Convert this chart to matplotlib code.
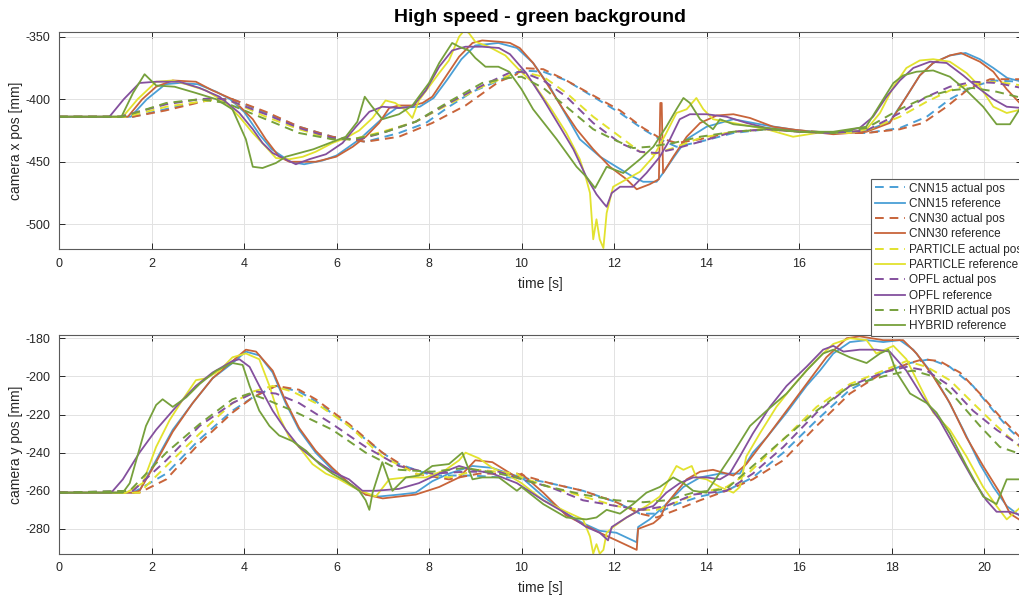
import matplotlib
matplotlib.use("Agg")
import matplotlib.pyplot as plt

plt.rcParams['font.family'] = ['Liberation Sans', 'DejaVu Sans']
plt.rcParams['axes.unicode_minus'] = False

T_MAX = 20.82

# colours of the five methods
C_CNN15 = '#4a9fd6'
C_CNN30 = '#c8643a'
C_PARTICLE = '#e2e22e'
C_OPFL = '#84509e'
C_HYBRID = '#76a03c'

# ---- camera x position (time [s], mm) ----
x_cnn15_act = [(0, -414), (1.6, -414), (2.3, -408), (3.3, -400), (3.75, -400), (4.47, -411), (5.19, -422), (5.91, -430),
               (6.27, -432), (6.63, -434), (7.35, -427), (7.93, -419), (8.43, -406), (8.94, -394), (9.51, -385), (10.0, -377),
               (10.47, -378), (10.97, -385), (11.55, -398), (12.13, -411), (12.63, -424), (12.99, -432), (13.35, -438),
               (13.86, -434), (14.58, -427), (15.3, -424), (16.02, -426), (16.74, -427), (17.46, -427), (18.18, -423),
               (18.76, -414), (19.26, -400), (19.76, -390), (20.2, -385), (20.82, -386)]
x_cnn15_ref = [(0, -414), (1.55, -414), (1.9, -400), (2.3, -388), (2.6, -387), (3.0, -388), (3.4, -394), (3.7, -400),
               (4.0, -410), (4.33, -428), (4.6, -440), (5.0, -450), (5.3, -452), (5.7, -449), (6.0, -445), (6.5, -432),
               (7.0, -415), (7.3, -407), (7.8, -406), (8.1, -399), (8.4, -384), (8.7, -368), (9.0, -357), (9.5, -355),
               (9.9, -359), (10.25, -371), (10.61, -390), (11.0, -415), (11.26, -432), (11.7, -446), (12.05, -454),
               (12.41, -462), (12.63, -466), (12.92, -466), (13.06, -459), (13.3, -446), (13.57, -432), (14.0, -422),
               (14.58, -416), (15.3, -421), (16.0, -425), (16.74, -427), (17.46, -425), (17.96, -418), (18.32, -398),
               (18.61, -381), (18.9, -371), (19.26, -365), (19.6, -363), (19.91, -368), (20.2, -375), (20.5, -383),
               (20.82, -386)]
x_cnn30_act = [(0, -414), (1.6, -414), (2.3, -409), (3.32, -400), (3.75, -400), (4.47, -410), (5.19, -422), (5.91, -430),
               (6.63, -434), (7.35, -430), (8.07, -419), (8.79, -405), (9.51, -386), (9.9, -380), (10.0, -375), (10.47, -376),
               (10.97, -385), (11.55, -397), (12.13, -409), (12.63, -423), (12.99, -431), (13.35, -435), (13.86, -432),
               (14.58, -426), (15.3, -424), (16.02, -425), (16.74, -427), (17.46, -427), (18.18, -424), (18.68, -419),
               (19.19, -406), (19.69, -391), (20.13, -384), (20.82, -384)]
x_cnn30_ref = [(0, -414), (1.49, -414), (1.8, -400), (2.1, -390), (2.46, -385), (2.96, -386), (3.32, -393), (3.75, -400),
               (4.19, -416), (4.47, -432), (4.76, -446), (4.98, -450), (5.55, -450), (5.99, -446), (6.35, -438), (6.63, -430),
               (6.92, -419), (7.14, -407), (7.35, -405), (7.64, -405), (7.86, -403), (8.07, -398), (8.36, -382), (8.65, -366),
               (8.94, -355), (9.15, -353), (9.51, -354), (9.75, -355), (9.96, -359), (10.25, -371), (10.54, -387),
               (10.9, -408), (11.19, -424), (11.55, -440), (11.91, -454), (12.27, -464), (12.49, -472), (12.77, -468),
               (12.97, -464), (13.0, -403), (13.03, -403), (13.06, -459), (13.28, -446), (13.57, -430), (13.86, -419),
               (14.22, -413), (14.58, -412), (14.94, -415), (15.44, -422), (16.02, -425), (16.74, -428), (17.46, -426),
               (17.96, -419), (18.32, -398), (18.61, -381), (18.9, -371), (19.26, -365), (19.5, -363), (19.91, -370),
               (20.2, -378), (20.49, -392), (20.82, -405)]
x_particle_act = [(0, -414), (1.45, -414), (2.32, -406), (3.04, -402), (3.47, -400), (3.75, -402), (4.47, -414), (5.19, -424),
                  (5.91, -432), (6.35, -432), (6.99, -426), (7.71, -418), (8.43, -404), (9.15, -390), (9.73, -381),
                  (10.0, -378), (10.47, -382), (10.97, -395), (11.55, -414), (12.13, -430), (12.56, -442), (12.85, -444),
                  (13.28, -439), (13.86, -431), (14.58, -426), (15.3, -424), (16.02, -426), (16.74, -427), (17.46, -425),
                  (18.18, -414), (18.76, -402), (19.26, -393), (19.76, -387), (20.27, -386), (20.82, -389)]
x_particle_ref = [(0, -414), (1.38, -414), (1.7, -400), (2.1, -386), (2.46, -385), (2.75, -388), (3.18, -393), (3.61, -403),
                  (3.9, -414), (4.19, -427), (4.47, -438), (4.69, -447), (4.98, -448), (5.27, -446), (5.55, -442),
                  (5.91, -435), (6.2, -431), (6.49, -425), (6.78, -415), (7.06, -401), (7.27, -403), (7.5, -409),
                  (7.64, -415), (7.78, -401), (8.0, -390), (8.22, -379), (8.43, -369), (8.65, -350), (8.76, -345),
                  (8.86, -347), (9.0, -354), (9.29, -358), (9.65, -365), (9.96, -377), (10.25, -387), (10.61, -406),
                  (10.97, -427), (11.26, -448), (11.4, -464), (11.48, -475), (11.55, -512), (11.62, -496), (11.69, -512),
                  (11.77, -519), (11.84, -491), (11.98, -470), (12.27, -464), (12.56, -458), (12.85, -446), (13.13, -427),
                  (13.35, -411), (13.57, -408), (13.78, -399), (13.93, -408), (14.14, -416), (14.58, -419), (15.3, -424),
                  (15.87, -430), (16.38, -427), (17.1, -427), (17.46, -424), (17.75, -411), (18.04, -390), (18.32, -375),
                  (18.61, -369), (18.9, -368), (19.26, -370), (19.62, -379), (19.91, -390), (20.2, -406), (20.49, -411),
                  (20.82, -408)]
x_opfl_act = [(0, -414), (1.31, -414), (2.32, -404), (3.04, -400), (3.4, -399), (3.75, -402), (4.47, -412), (5.19, -423),
              (5.91, -431), (6.49, -432), (6.99, -427), (7.71, -418), (8.43, -403), (9.15, -389), (9.73, -379), (10.0, -378),
              (10.47, -385), (10.97, -398), (11.55, -419), (12.13, -435), (12.56, -442), (12.92, -443), (13.28, -440),
              (13.86, -434), (14.58, -426), (15.3, -424), (16.02, -426), (16.74, -427), (17.46, -425), (18.18, -411),
              (18.76, -398), (19.26, -390), (19.76, -386), (20.27, -387), (20.82, -391)]
x_opfl_ref = [(0, -414), (1.09, -414), (1.4, -400), (1.74, -387), (2.1, -386), (2.6, -386), (3.04, -391), (3.47, -398),
              (3.9, -411), (4.19, -424), (4.4, -435), (4.62, -443), (4.9, -448), (5.12, -452), (5.41, -448), (5.77, -444),
              (6.13, -435), (6.42, -422), (6.71, -410), (6.99, -406), (7.35, -407), (7.64, -406), (7.93, -393), (8.22, -374),
              (8.5, -361), (8.79, -358), (9.15, -358), (9.51, -359), (9.75, -364), (10.1, -379), (10.47, -400),
              (10.83, -422), (11.12, -440), (11.4, -462), (11.62, -476), (11.77, -483), (11.84, -486), (11.95, -475),
              (12.13, -470), (12.41, -470), (12.7, -459), (12.99, -446), (13.21, -432), (13.42, -416), (13.64, -412),
              (14.0, -412), (14.43, -414), (14.87, -419), (15.3, -423), (16.02, -426), (16.74, -427), (17.31, -423),
              (17.6, -414), (17.89, -398), (18.18, -385), (18.47, -375), (18.83, -370), (19.19, -371), (19.55, -381),
              (19.84, -390), (20.2, -400), (20.49, -406), (20.82, -407)]
x_hybrid_act = [(0, -414), (1.38, -414), (2.32, -403), (3.04, -400), (3.61, -403), (4.47, -416), (5.19, -427), (5.91, -432),
                (6.35, -432), (6.99, -427), (7.71, -418), (8.43, -402), (9.15, -387), (9.73, -383), (10.0, -382),
                (10.47, -391), (10.97, -406), (11.55, -424), (11.98, -432), (12.41, -439), (12.77, -438), (13.28, -435),
                (13.86, -430), (14.58, -426), (15.3, -424), (16.02, -426), (16.74, -427), (17.46, -423), (18.18, -408),
                (18.76, -398), (19.26, -393), (19.76, -391), (20.27, -394), (20.82, -399)]
x_hybrid_ref = [(0, -414), (1.35, -414), (1.6, -395), (1.85, -380), (2.1, -389), (2.5, -390), (2.96, -395), (3.4, -400),
                (3.75, -408), (4.04, -432), (4.19, -454), (4.4, -455), (4.69, -451), (4.9, -446), (5.5, -440), (6.2, -430),
                (6.45, -418), (6.61, -398), (6.75, -405), (6.99, -416), (7.35, -412), (7.64, -405), (8.0, -387),
                (8.22, -371), (8.5, -355), (8.65, -358), (8.86, -361), (9.0, -367), (9.22, -374), (9.5, -374),
                (9.73, -378), (10.0, -392), (10.25, -408), (10.76, -432), (11.19, -454), (11.4, -462), (11.59, -471),
                (11.84, -454), (12.2, -459), (12.56, -448), (12.85, -438), (13.13, -422), (13.35, -408), (13.5, -399),
                (13.64, -403), (13.86, -416), (14.14, -424), (14.29, -416), (14.58, -420), (15.3, -423), (16.0, -426),
                (16.74, -426), (17.45, -422), (17.82, -400), (18.04, -387), (18.25, -381), (18.54, -378), (18.9, -377),
                (19.26, -382), (19.62, -393), (19.98, -406), (20.27, -420), (20.56, -420), (20.82, -405)]

# ---- camera y position (time [s], mm) ----
y_cnn15_act = [(0, -261), (1.6, -261), (2.32, -251), (3.04, -233), (3.75, -218), (4.19, -211), (4.69, -205), (5.19, -208),
               (5.55, -213), (6.27, -226), (6.99, -240), (7.35, -246), (8.07, -252), (8.94, -252), (9.53, -253), (10.0, -253),
               (10.61, -256), (11.33, -260), (12.05, -266), (12.56, -272), (12.92, -272), (13.35, -267), (13.86, -263),
               (14.43, -260), (15.0, -253), (15.66, -240), (16.38, -223), (17.1, -207), (17.82, -198), (18.4, -193),
               (18.83, -191), (19.26, -195), (19.76, -205), (20.2, -218), (20.56, -228), (20.82, -234)]
y_cnn15_ref = [(0, -261), (1.6, -261), (1.74, -260), (2.03, -247), (2.46, -228), (2.89, -214), (3.32, -201), (3.75, -193),
               (4.04, -187), (4.33, -189), (4.62, -198), (4.9, -214), (5.19, -228), (5.55, -240), (5.91, -249), (6.27, -256),
               (6.63, -262), (6.92, -263), (7.35, -262), (7.71, -261), (8.07, -255), (8.43, -251), (8.94, -247),
               (9.37, -248), (9.73, -251), (10.0, -253), (10.47, -263), (10.97, -272), (11.33, -277), (11.69, -281),
               (12.05, -282), (12.49, -287), (12.52, -279), (12.77, -275), (13.13, -267), (13.5, -258), (13.86, -253),
               (14.29, -251), (14.72, -251), (15.0, -240), (15.3, -232), (15.73, -219), (16.16, -205), (16.45, -197),
               (16.74, -188), (17.1, -182), (17.46, -181), (17.82, -182), (18.18, -181), (18.47, -186), (18.83, -197),
               (19.19, -211), (19.55, -228), (19.91, -246), (20.2, -258), (20.49, -268), (20.82, -274)]
y_cnn30_act = [(0, -261), (1.74, -261), (2.32, -254), (3.04, -235), (3.75, -219), (4.19, -211), (4.69, -205), (5.19, -207),
               (5.55, -212), (6.27, -225), (6.99, -240), (7.71, -251), (8.43, -254), (9.08, -251), (9.9, -251),
               (10.61, -256), (11.33, -260), (12.05, -266), (12.56, -272), (12.92, -274), (13.35, -270), (13.86, -265),
               (14.43, -260), (15.0, -254), (15.66, -244), (16.38, -226), (17.1, -209), (17.82, -198), (18.4, -193),
               (18.68, -191), (19.04, -192), (19.48, -198), (19.91, -209), (20.34, -221), (20.82, -233)]
y_cnn30_ref = [(0, -261), (1.6, -261), (1.74, -260), (2.03, -248), (2.46, -229), (2.89, -214), (3.32, -201), (3.75, -192),
               (4.04, -186), (4.26, -187), (4.62, -197), (4.9, -213), (5.19, -227), (5.55, -239), (5.91, -248), (6.27, -256),
               (6.63, -262), (7.0, -264), (7.71, -262), (8.22, -258), (8.65, -253), (9.0, -244), (9.37, -245), (9.9, -253),
               (10.0, -251), (10.47, -261), (10.97, -273), (11.69, -282), (12.05, -286), (12.49, -291), (12.52, -280),
               (12.85, -277), (13.0, -274), (13.13, -267), (13.57, -254), (13.86, -250), (14.14, -249), (14.58, -252),
               (14.86, -246), (15.3, -232), (15.73, -218), (16.16, -204), (16.59, -190), (17.03, -180), (17.31, -179),
               (17.82, -181), (18.25, -181), (18.54, -188), (18.9, -200), (19.26, -214), (19.62, -232), (19.98, -247),
               (20.34, -261), (20.56, -272), (20.82, -276)]
y_particle_act = [(0, -261), (1.74, -261), (2.32, -247), (3.04, -230), (3.75, -214), (4.19, -208), (4.62, -205), (5.05, -208),
                  (5.55, -214), (6.27, -226), (6.99, -242), (7.71, -251), (8.43, -253), (9.08, -249), (9.9, -251),
                  (10.0, -253), (10.61, -258), (11.33, -263), (12.05, -268), (12.56, -270), (12.92, -270), (13.35, -266),
                  (13.86, -261), (14.43, -258), (14.94, -250), (15.66, -233), (16.38, -216), (17.1, -204), (17.82, -197),
                  (18.32, -192), (18.76, -195), (19.26, -202), (19.76, -214), (20.27, -226), (20.82, -238)]
y_particle_ref = [(0, -261), (1.45, -261), (1.81, -256), (2.1, -237), (2.39, -223), (2.68, -212), (2.96, -202), (3.18, -201),
                  (3.47, -197), (3.75, -190), (4.04, -188), (4.33, -191), (4.55, -205), (4.76, -221), (4.98, -232),
                  (5.19, -237), (5.48, -246), (5.77, -251), (6.06, -254), (6.35, -258), (6.63, -261), (6.85, -263),
                  (7.14, -254), (7.5, -253), (7.93, -253), (8.36, -249), (8.65, -244), (8.79, -240), (9.08, -243),
                  (9.37, -248), (9.73, -252), (10.0, -256), (10.47, -265), (10.97, -271), (11.33, -275), (11.48, -284),
                  (11.55, -293), (11.62, -288), (11.69, -293), (11.77, -291), (11.84, -282), (11.98, -279), (12.27, -274),
                  (12.7, -268), (12.99, -263), (13.21, -253), (13.35, -247), (13.5, -249), (13.68, -247), (13.78, -253),
                  (14.0, -254), (14.29, -258), (14.58, -261), (14.72, -258), (14.86, -242), (15.15, -230), (15.51, -216),
                  (15.87, -205), (16.23, -195), (16.52, -188), (16.74, -183), (17.1, -180), (17.46, -181), (17.67, -188),
                  (18.04, -184), (18.32, -191), (18.61, -205), (18.9, -219), (19.26, -228), (19.62, -242), (19.98, -258),
                  (20.27, -268), (20.49, -275), (20.82, -268)]
y_opfl_act = [(0, -261), (1.6, -260), (2.32, -244), (3.04, -226), (3.75, -214), (4.26, -208), (4.69, -209), (5.19, -214),
              (5.91, -225), (6.63, -237), (7.35, -247), (8.07, -251), (8.79, -250), (9.51, -250), (10.0, -254),
              (10.61, -258), (11.33, -265), (12.05, -268), (12.63, -270), (13.13, -268), (13.71, -262), (14.43, -260),
              (15.0, -251), (15.66, -237), (16.38, -219), (17.1, -205), (17.82, -198), (18.32, -195), (18.76, -197),
              (19.26, -205), (19.76, -218), (20.27, -228), (20.82, -237)]
y_opfl_ref = [(0, -261), (1.13, -261), (1.38, -254), (1.74, -240), (2.1, -228), (2.53, -216), (2.96, -205), (3.32, -198),
              (3.75, -192), (3.9, -191), (4.12, -195), (4.33, -205), (4.62, -218), (4.9, -228), (5.19, -237), (5.55, -244),
              (5.91, -250), (6.27, -254), (6.56, -260), (6.85, -260), (7.35, -259), (7.78, -256), (8.22, -251),
              (8.65, -247), (8.94, -249), (9.37, -251), (9.9, -256), (10.47, -265), (10.97, -272), (11.4, -279),
              (11.69, -282), (11.87, -286), (11.95, -279), (12.27, -274), (12.56, -270), (12.85, -268), (13.13, -261),
              (13.42, -256), (13.71, -253), (14.0, -253), (14.29, -254), (14.5, -251), (14.72, -242), (15.0, -230),
              (15.37, -216), (15.73, -205), (16.16, -195), (16.52, -186), (16.74, -184), (16.96, -187), (17.31, -186),
              (17.67, -186), (17.96, -187), (18.32, -197), (18.68, -211), (19.04, -223), (19.41, -239), (19.76, -254),
              (20.05, -265), (20.27, -271), (20.56, -271), (20.82, -273)]
y_hybrid_act = [(0, -261), (1.53, -260), (2.32, -240), (3.04, -225), (3.75, -212), (4.12, -209), (4.47, -212), (5.05, -218),
                (5.91, -228), (6.63, -240), (7.35, -249), (8.07, -250), (8.79, -248), (9.51, -251), (9.9, -253),
                (10.0, -254), (10.61, -258), (11.33, -262), (12.05, -265), (12.63, -266), (13.13, -265), (13.71, -261),
                (14.43, -259), (15.0, -247), (15.66, -233), (16.38, -218), (17.1, -205), (17.82, -200), (18.18, -198),
                (18.47, -197), (18.9, -200), (19.41, -212), (19.91, -226), (20.34, -237), (20.82, -241)]
y_hybrid_ref = [(0, -261), (1.38, -261), (1.53, -256), (1.67, -244), (1.88, -226), (2.1, -215), (2.24, -212), (2.46, -216),
                (2.75, -211), (3.04, -204), (3.4, -197), (3.75, -193), (3.97, -194), (4.12, -205), (4.33, -218),
                (4.55, -226), (4.76, -231), (5.05, -234), (5.34, -239), (5.63, -246), (5.91, -251), (6.2, -255),
                (6.49, -260), (6.63, -265), (6.71, -270), (6.78, -261), (6.99, -245), (7.21, -260), (7.5, -253),
                (7.78, -252), (8.07, -247), (8.43, -246), (8.72, -240), (8.94, -254), (9.15, -253), (9.51, -253),
                (9.9, -260), (10.0, -258), (10.47, -267), (10.97, -274), (11.4, -275), (11.62, -274), (11.84, -270),
                (12.13, -272), (12.41, -267), (12.7, -261), (12.99, -258), (13.28, -253), (13.5, -256), (13.71, -260),
                (14.0, -261), (14.22, -253), (14.58, -240), (14.94, -226), (15.3, -218), (15.73, -209), (16.16, -197),
                (16.52, -188), (16.74, -186), (17.1, -190), (17.46, -193), (17.75, -188), (17.93, -186), (18.11, -198),
                (18.4, -209), (18.76, -214), (18.97, -219), (19.26, -230), (19.62, -247), (19.98, -263), (20.27, -267),
                (20.49, -254), (20.82, -254)]

methods = ['CNN15', 'CNN30', 'PARTICLE', 'OPFL', 'HYBRID']
colors = [C_CNN15, C_CNN30, C_PARTICLE, C_OPFL, C_HYBRID]
x_series = [(x_cnn15_act, x_cnn15_ref), (x_cnn30_act, x_cnn30_ref), (x_particle_act, x_particle_ref),
            (x_opfl_act, x_opfl_ref), (x_hybrid_act, x_hybrid_ref)]
y_series = [(y_cnn15_act, y_cnn15_ref), (y_cnn30_act, y_cnn30_ref), (y_particle_act, y_particle_ref),
            (y_opfl_act, y_opfl_ref), (y_hybrid_act, y_hybrid_ref)]

TXT = '#262626'
W, H = 1020, 601


def style_axes(ax, ylim, yticks, ylabel):
    ax.set_xlim(0, T_MAX)
    ax.set_ylim(*ylim)
    ax.set_xticks(range(0, 21, 2))
    ax.set_yticks(yticks)
    ax.grid(True, color='#e2e2e2', linewidth=0.7)
    ax.set_axisbelow(True)
    ax.tick_params(direction='in', length=4, width=0.7, top=True, right=True,
                   labelsize=9, colors=TXT, pad=6)
    for sp in ax.spines.values():
        sp.set_color('#5a5a5a')
        sp.set_linewidth(0.8)
    ax.set_xlabel('time [s]', fontsize=10, color=TXT, labelpad=5)
    ax.set_ylabel(ylabel, fontsize=10, color=TXT, labelpad=2)


def draw(ax, series):
    handles = []
    for name, col, (act, ref) in zip(methods, colors, series):
        ta, va = zip(*act)
        tr, vr = zip(*ref)
        h1, = ax.plot(ta, va, color=col, linewidth=1.4, linestyle=(0, (4.5, 3)), label=name + ' actual pos')
        h2, = ax.plot(tr, vr, color=col, linewidth=1.3, label=name + ' reference')
        handles += [h1, h2]
    return handles


fig = plt.figure(figsize=(W / 100, H / 100), dpi=100)
ax1 = fig.add_axes([59 / W, 1 - 249.3 / H, (1022 - 59) / W, (249.3 - 31.7) / H])
ax2 = fig.add_axes([59 / W, 1 - 553.7 / H, (1022 - 59) / W, (553.7 - 335) / H])

handles = draw(ax1, x_series)
draw(ax2, y_series)

style_axes(ax1, (-520, -346), [-500, -450, -400, -350], 'camera x pos [mm]')
style_axes(ax2, (-293, -178.3), [-280, -260, -240, -220, -200, -180], 'camera y pos [mm]')
ax1.set_title('High speed - green background', fontsize=14, fontweight='bold', color='black', pad=7)

leg = fig.legend(handles=handles, loc='upper left', bbox_to_anchor=(871 / W, 1 - 179 / H),
                 fontsize=8.5, handlelength=2.6, handletextpad=0.35, labelspacing=0.28,
                 borderpad=0.3, borderaxespad=0, fancybox=False, framealpha=1)
leg.get_frame().set_edgecolor('#5a5a5a')
leg.get_frame().set_linewidth(0.8)
for t in leg.get_texts():
    t.set_color(TXT)

fig.savefig('out.png', dpi=100)
